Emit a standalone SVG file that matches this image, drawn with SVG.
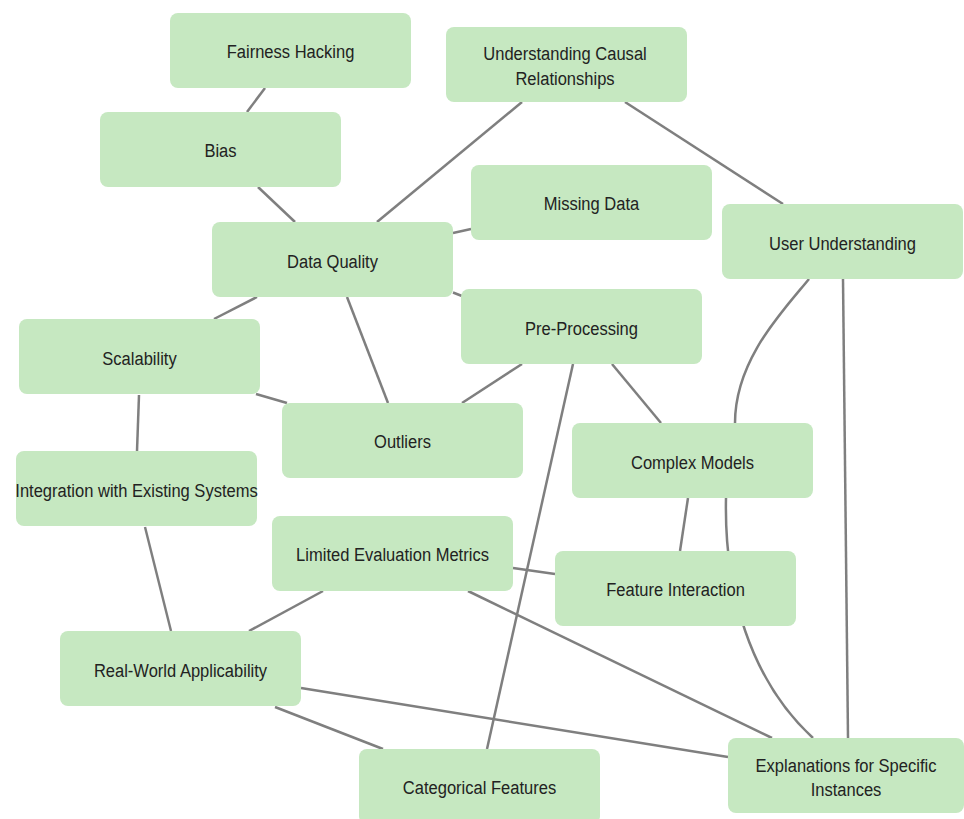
<svg xmlns="http://www.w3.org/2000/svg" width="964" height="819" viewBox="0 0 964 819">
<style>
.box{fill:#c6e8c1;}
.lbl{font-family:"Liberation Sans",Arial,sans-serif;font-size:19px;fill:#222;text-anchor:middle;}
.edge{stroke:#7f7f7f;stroke-width:2.5;fill:none;}
</style>
<rect width="964" height="819" fill="#fff"/>
<g id="connectors">
<line class="edge" x1="265" y1="88" x2="247" y2="112"/>
<line class="edge" x1="258" y1="187" x2="295" y2="222"/>
<line class="edge" x1="377" y1="222" x2="522" y2="102"/>
<line class="edge" x1="453" y1="233" x2="471" y2="229"/>
<line class="edge" x1="625" y1="102" x2="783" y2="204"/>
<line class="edge" x1="257" y1="297" x2="214" y2="319"/>
<line class="edge" x1="347" y1="297" x2="388" y2="403"/>
<line class="edge" x1="453" y1="292.5" x2="462" y2="296"/>
<line class="edge" x1="256" y1="394" x2="287" y2="403"/>
<line class="edge" x1="139" y1="395" x2="137" y2="451"/>
<line class="edge" x1="522" y1="364" x2="462" y2="403"/>
<line class="edge" x1="612" y1="364" x2="661" y2="423"/>
<line class="edge" x1="573" y1="364" x2="487" y2="749"/>
<path class="edge" d="M809,279 C782,312 735,360 735,423"/>
<line class="edge" x1="843" y1="279" x2="848" y2="738"/>
<line class="edge" x1="688" y1="498" x2="680" y2="551"/>
<path class="edge" d="M726,498 C724,590 750,680 813,738"/>
<line class="edge" x1="513" y1="568" x2="555" y2="574"/>
<line class="edge" x1="468" y1="591" x2="772" y2="738"/>
<line class="edge" x1="323" y1="591" x2="249" y2="631"/>
<line class="edge" x1="145" y1="527" x2="171" y2="631"/>
<line class="edge" x1="301" y1="688" x2="728" y2="757"/>
<line class="edge" x1="275" y1="707" x2="383" y2="749"/>
</g>
<g id="fairness-hacking"><rect class="box" x="170" y="13" width="241" height="75" rx="8"/><text class="lbl" transform="translate(290.5,58) scale(0.87,1)">Fairness Hacking</text></g>
<g id="understanding-causal"><rect class="box" x="446" y="27" width="241" height="75" rx="8"/><text class="lbl" transform="translate(565,60) scale(0.87,1)">Understanding Causal</text><text class="lbl" transform="translate(565,84.5) scale(0.87,1)">Relationships</text></g>
<g id="bias"><rect class="box" x="100" y="112" width="241" height="75" rx="8"/><text class="lbl" transform="translate(220.5,157) scale(0.87,1)">Bias</text></g>
<g id="missing-data"><rect class="box" x="471" y="165" width="241" height="75" rx="8"/><text class="lbl" transform="translate(591.5,210) scale(0.87,1)">Missing Data</text></g>
<g id="data-quality"><rect class="box" x="212" y="222" width="241" height="75" rx="8"/><text class="lbl" transform="translate(332.5,267.5) scale(0.87,1)">Data Quality</text></g>
<g id="user-understanding"><rect class="box" x="722" y="204" width="241" height="75" rx="8"/><text class="lbl" transform="translate(842.5,249.5) scale(0.87,1)">User Understanding</text></g>
<g id="pre-processing"><rect class="box" x="461" y="289" width="241" height="75" rx="8"/><text class="lbl" transform="translate(581.5,334.5) scale(0.87,1)">Pre-Processing</text></g>
<g id="scalability"><rect class="box" x="19" y="319" width="241" height="75" rx="8"/><text class="lbl" transform="translate(139.5,364.5) scale(0.87,1)">Scalability</text></g>
<g id="outliers"><rect class="box" x="282" y="403" width="241" height="75" rx="8"/><text class="lbl" transform="translate(402.5,448) scale(0.87,1)">Outliers</text></g>
<g id="complex-models"><rect class="box" x="572" y="423" width="241" height="75" rx="8"/><text class="lbl" transform="translate(692.5,468.5) scale(0.87,1)">Complex Models</text></g>
<g id="integration"><rect class="box" x="16" y="451" width="241" height="75" rx="8"/><text class="lbl" transform="translate(136.5,496.5) scale(0.87,1)">Integration with Existing Systems</text></g>
<g id="limited-evaluation-metrics"><rect class="box" x="272" y="516" width="241" height="75" rx="8"/><text class="lbl" transform="translate(392.5,561) scale(0.87,1)">Limited Evaluation Metrics</text></g>
<g id="feature-interaction"><rect class="box" x="555" y="551" width="241" height="75" rx="8"/><text class="lbl" transform="translate(675.5,596) scale(0.87,1)">Feature Interaction</text></g>
<g id="real-world-applicability"><rect class="box" x="60" y="631" width="241" height="75" rx="8"/><text class="lbl" transform="translate(180.5,676.5) scale(0.87,1)">Real-World Applicability</text></g>
<g id="categorical-features"><rect class="box" x="359" y="749" width="241" height="75" rx="8"/><text class="lbl" transform="translate(479.5,794) scale(0.87,1)">Categorical Features</text></g>
<g id="explanations"><rect class="box" x="728" y="738" width="236" height="75" rx="8"/><text class="lbl" transform="translate(846,771.5) scale(0.87,1)">Explanations for Specific</text><text class="lbl" transform="translate(846,795.5) scale(0.87,1)">Instances</text></g>
</svg>
